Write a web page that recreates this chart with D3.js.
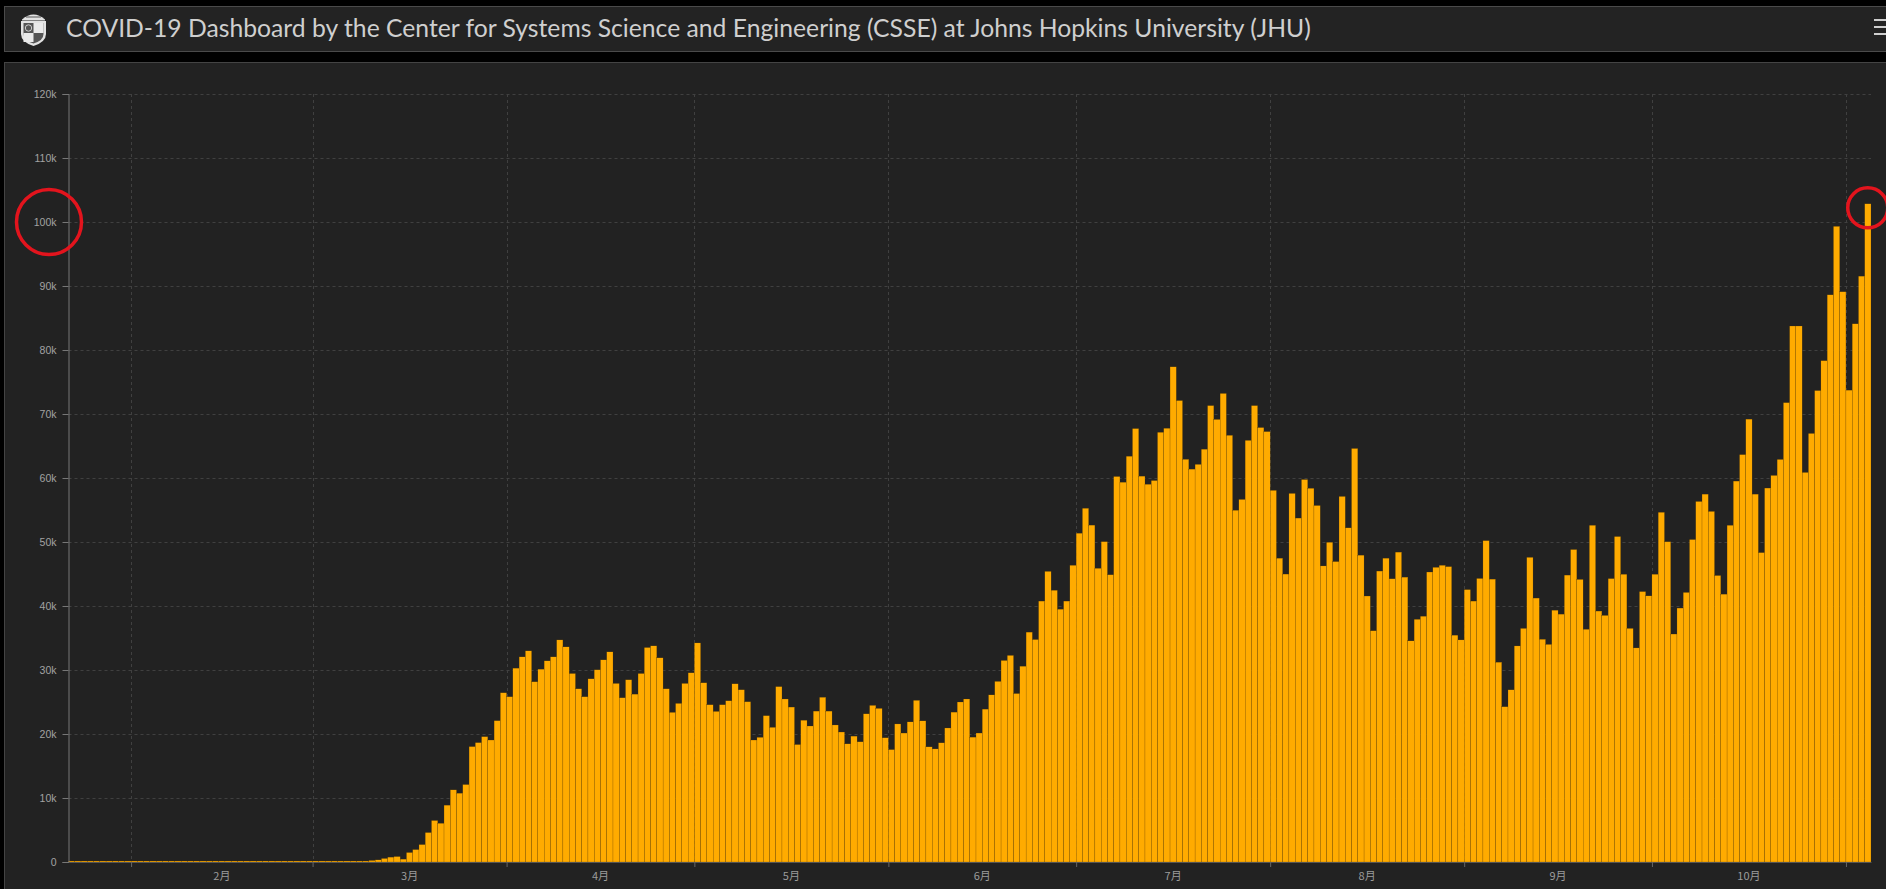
<!DOCTYPE html>
<html>
<head>
<meta charset="utf-8">
<script src="https://d3js.org/d3.v7.min.js"></script>
<style>
  html, body { margin: 0; padding: 0; background: #000; overflow: hidden; }
  svg { display: block; }
</style>
</head>
<body>
<svg width="1886" height="889"></svg>
<script>
// daily new cases, one array per month (starts 2020-01-22)
var casesJan = [1, 0, 1, 0, 3, 0, 0, 0, 0, 2];
var casesFeb = [1, 0, 3, 0, 0, 0, 0, 1, 0, 1, 0, 1, 0, 0, 1, 0, 0, 0, 0, 0, 0, 0, 0, 0, 1, 0, 0, 1, 5];
var casesMar = [8, 23, 20, 31, 70, 60, 130, 120, 40, 240, 330, 550, 760, 850, 450, 1480, 1940, 2720, 4600, 6480,
	6050, 8880, 11270, 10750, 12100, 18030, 18650, 19580, 19060, 22080, 26440];
var casesApr = [25820, 30290, 32050, 32990, 28160, 30130, 31430, 32050, 34700, 33610, 29450, 27060, 25820, 28620, 30030,
	31580, 32830, 27900, 25660, 28470, 26230, 29450, 33510, 33770, 31900, 27060, 23380, 24780, 27900, 29560];
var casesMay = [34230, 28000, 24570, 23530, 24570, 25190, 27840, 26910, 25040, 19060, 19480, 22860, 21040, 27400, 25470,
	24210, 18350, 22150, 21250, 23580, 25740, 23580, 21410, 20310, 18460, 19670, 18780, 23150, 24470, 24000, 19410];
var casesJun = [17560, 21570, 20150, 21890, 25260, 22050, 17990, 17670, 18620, 20940, 23420, 25000, 25470, 19510, 20150,
	23890, 26110, 28220, 31490, 32280, 26320, 30590, 35920, 34760, 40770, 45410, 42460, 39500, 40770, 46360];
var casesJul = [51370, 55270, 52640, 45890, 50050, 44880, 60230, 59340, 63400, 67720, 60290, 59020, 59600, 67140, 67770,
	77370, 72100, 62920, 61390, 62130, 64500, 71310, 69150, 73210, 66670, 54960, 56650, 65880, 71310, 67880, 67250];
var casesAug = [58070, 47470, 44990, 57590, 53740, 59760, 58390, 55700, 46260, 49950, 46940, 57120, 52210, 64610, 47940,
	41560, 36130, 45460, 47470, 44250, 48420, 44510, 34550, 37920, 38400, 45310, 46040, 46360, 46150, 35440, 34700];
var casesSep = [42560, 40770, 44300, 50210, 44200, 31220, 24260, 26900, 33760, 36500, 47600, 41240, 34800, 34000, 39340,
	38730, 44830, 48820, 44150, 36360, 52610, 39210, 38530, 44280, 50850, 44960, 36500, 33450, 42250, 41580];
var casesOct = [44960, 54640, 50040, 35620, 39680, 42120, 50380, 56330, 57480, 54780, 44760, 41850, 52610, 59520, 63650,
	69200, 57480, 48340, 58430, 60400, 62900, 71770, 83750, 83750, 60870, 66960, 73660, 78330, 88620, 99320, 89100];
var casesNov = [73730, 84090, 91540, 102840];

var startDate = new Date(2020, 0, 22);
var yTicks = [0, 10000, 20000, 30000, 40000, 50000, 60000, 70000, 80000, 90000, 100000, 110000, 120000];
var monthLabels = ["2月", "3月", "4月", "5月", "6月", "7月", "8月", "9月", "10月"];
var titleText = "COVID-19 Dashboard by the Center for Systems Science and Engineering (CSSE) at Johns Hopkins University (JHU)";

var values = [].concat(casesJan, casesFeb, casesMar, casesApr, casesMay, casesJun,
	casesJul, casesAug, casesSep, casesOct, casesNov);
var data = values.map(function(v, i) {
	return { date: d3.timeDay.offset(startDate, i), value: v };
});

var svg = d3.select("svg"),
	plot = { left: 68.5, right: 1871, top: 94, bottom: 862 };

// header and chart panels
svg.append("rect").attr("x", 4.5).attr("y", 6.5).attr("width", 1900).attr("height", 45)
	.attr("fill", "#232323").attr("stroke", "#4a4a4a");
svg.append("rect").attr("x", 4.5).attr("y", 62.5).attr("width", 1900).attr("height", 900)
	.attr("fill", "#222").attr("stroke", "#444");

// logo (simple shield)
var logo = svg.append("g").attr("transform", "translate(20,11)");
logo.append("path").attr("d", "M1,10 L26,10 L26,23 Q26,31 13.5,35 Q1,31 1,23 Z")
	.attr("fill", "#e2e2e2");
logo.append("path").attr("d", "M3.5,12 L23.5,12 L23.5,23 Q23.5,29.5 13.5,32.5 Q3.5,29.5 3.5,23 Z")
	.attr("fill", "#555");
logo.append("rect").attr("x", 13.5).attr("y", 12).attr("width", 10).attr("height", 10).attr("fill", "#eaeaea");
logo.append("rect").attr("x", 3.5).attr("y", 22).attr("width", 10).attr("height", 9).attr("fill", "#eaeaea");
logo.append("circle").attr("cx", 8.5).attr("cy", 17).attr("r", 3.2).attr("fill", "none").attr("stroke", "#ccc");
logo.append("path").attr("d", "M2,8.5 Q13.5,-1.5 25,8.5 L25,9.5 L2,9.5 Z").attr("fill", "#e2e2e2");
logo.append("path").attr("d", "M6,6 L21,6").attr("stroke", "#555").attr("stroke-width", 1);

// title
var title = svg.append("text").attr("x", 66).attr("y", 37)
	.attr("fill", "#cfcfcf").style("font-family", "Lato, 'Open Sans', sans-serif")
	.style("font-size", "22.5px").text(titleText);
var tl = title.node().getComputedTextLength();
title.style("font-size", (22.5 * 1245 / tl).toFixed(2) + "px");

// menu icon
svg.append("g").selectAll("rect").data([20, 27, 34]).enter().append("rect")
	.attr("x", 1874).attr("y", function(d) { return d - 1; })
	.attr("width", 14).attr("height", 2).attr("fill", "#cfcfcf");

// scales
var x = d3.scaleTime()
	.domain([startDate, d3.timeDay.offset(startDate, values.length)])
	.range([plot.left, plot.right]);
var y = d3.scaleLinear().domain([0, 120000]).range([plot.bottom, plot.top]);

var monthStarts = d3.timeMonth.range(new Date(2020, 1, 1), new Date(2020, 10, 2));

// grid
var grid = svg.append("g").attr("class", "grid");
grid.selectAll(".hgrid").data(yTicks.slice(1)).enter().append("line")
	.attr("x1", plot.left).attr("x2", plot.right)
	.attr("y1", function(d) { return Math.round(y(d)) + 0.5; })
	.attr("y2", function(d) { return Math.round(y(d)) + 0.5; })
	.attr("stroke", "#404040").attr("stroke-dasharray", "3,3");
grid.selectAll(".vgrid").data(monthStarts).enter().append("line")
	.attr("x1", function(d) { return Math.round(x(d)) + 0.5; })
	.attr("x2", function(d) { return Math.round(x(d)) + 0.5; })
	.attr("y1", plot.top).attr("y2", plot.bottom)
	.attr("stroke", "#404040").attr("stroke-dasharray", "3,3");

// bars
svg.append("g").selectAll(".bar").data(data).enter().append("rect")
	.attr("class", "bar")
	.attr("x", function(d) { return x(d.date); })
	.attr("width", function(d) { return x(d3.timeDay.offset(d.date, 1)) - x(d.date); })
	.attr("y", function(d) { return Math.min(y(d.value), plot.bottom - 1); })
	.attr("height", function(d) { return Math.max(1, plot.bottom - y(d.value)); })
	.attr("fill", "#ffab00")
	.attr("stroke", "#4d3300").attr("stroke-width", 0.2);

// y axis
var yAxis = svg.append("g").attr("transform", "translate(" + plot.left + ",0)")
	.call(d3.axisLeft(y).tickValues(yTicks).tickSizeOuter(0).tickSize(6).tickPadding(6)
		.tickFormat(function(d) { return d === 0 ? "0" : (d / 1000) + "k"; }));
yAxis.select(".domain").attr("stroke", "#777");
yAxis.selectAll(".tick line").attr("stroke", "#777");
yAxis.selectAll(".tick text").attr("fill", "#a3a3a3")
	.style("font-family", "'Liberation Sans', Arial, sans-serif").style("font-size", "10.5px");

// x axis: ticks at month starts, labels centred in each month
var xAxis = svg.append("g").attr("transform", "translate(0," + plot.bottom + ")")
	.call(d3.axisBottom(x).tickValues(monthStarts).tickSize(5).tickSizeOuter(0).tickFormat(""));
xAxis.select(".domain").attr("stroke", "#555");
xAxis.selectAll(".tick line").attr("stroke", "#666");

svg.append("g").selectAll(".mlabel").data(monthLabels).enter().append("text")
	.attr("x", function(d, i) { return (x(monthStarts[i]) + x(monthStarts[i + 1])) / 2; })
	.attr("y", 876).attr("dy", "0.35em").attr("text-anchor", "middle")
	.attr("fill", "#9c9c9c")
	.style("font-family", "'Noto Sans CJK SC', sans-serif").style("font-size", "11px")
	.text(function(d) { return d; });

// red annotation circles
var last = data[data.length - 1];
svg.append("circle").attr("cx", 49).attr("cy", y(100000)).attr("r", 32.5)
	.attr("fill", "none").attr("stroke", "#e3141d").attr("stroke-width", 3.5);
svg.append("circle")
	.attr("cx", x(last.date) + 3)
	.attr("cy", y(last.value) + 4).attr("r", 20)
	.attr("fill", "none").attr("stroke", "#e3141d").attr("stroke-width", 3.5);
</script>
</body>
</html>
